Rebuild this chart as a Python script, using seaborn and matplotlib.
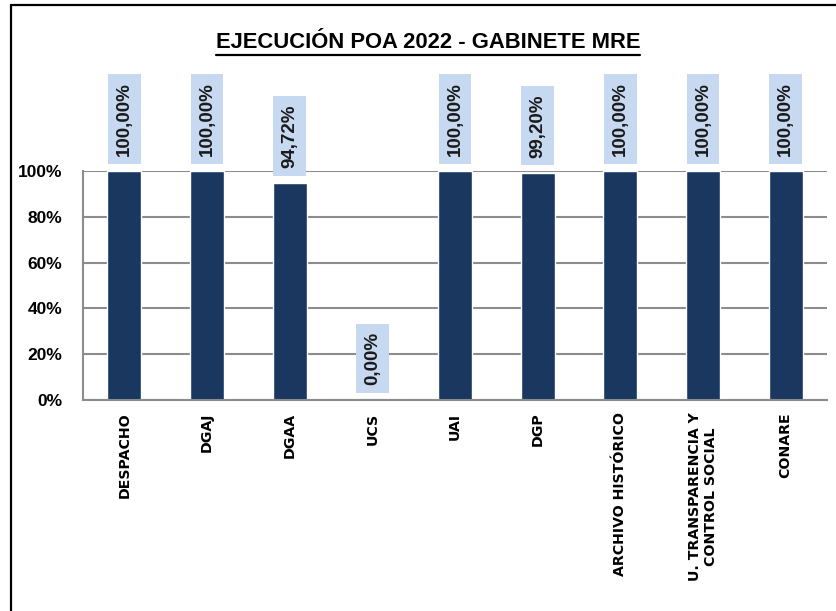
import matplotlib
matplotlib.use("Agg")
import matplotlib.pyplot as plt
import seaborn as sns
import pandas as pd
from matplotlib.lines import Line2D

categories = ["DESPACHO", "DGAJ", "DGAA", "UCS", "UAI", "DGP",
              "ARCHIVO HISTÓRICO", "U. TRANSPARENCIA Y\nCONTROL SOCIAL", "CONARE"]
values = [1.00, 1.00, 0.9472, 0.0, 1.00, 0.992, 1.00, 1.00, 1.00]
yticks = [0, 0.2, 0.4, 0.6, 0.8, 1.0]
ytick_labels = ["0%", "20%", "40%", "60%", "80%", "100%"]
title = "EJECUCIÓN POA 2022 - GABINETE MRE"

BAR = "#1A3760"
BOX = "#C6D9F1"
GRID = "#8C8C8C"
FONT = ["Liberation Sans", "DejaVu Sans"]

sns.set_theme(style="white")
plt.rcParams["font.family"] = FONT

W, H = 837, 611
fig = plt.figure(figsize=(W / 100, H / 100), dpi=100)
fig.patch.set_facecolor("white")

# outer frame (left & top visible)
fig.add_artist(Line2D([11 / W, 11 / W], [0, 1 - 5 / H], color="black", lw=1.6, transform=fig.transFigure))
fig.add_artist(Line2D([11 / W, 1], [1 - 5 / H, 1 - 5 / H], color="black", lw=1.6, transform=fig.transFigure))

ax = fig.add_axes([83 / W, 1 - 400 / H, (827 - 83) / W, (400 - 171) / H])
df = pd.DataFrame({"cat": categories, "val": values})
sns.barplot(data=df, x="cat", y="val", color=BAR, saturation=1, width=0.41, ax=ax)

ax.set_ylim(0, 1)
ax.set_xlim(-0.5, len(categories) - 0.5)
ax.set_yticks(yticks)
ax.set_yticklabels(ytick_labels, fontsize=12.5, fontweight="bold", color="black")
ax.set_xlabel("")
ax.set_ylabel("")
ax.yaxis.grid(True, color=GRID, lw=1.5)
ax.set_axisbelow(True)
for s in ["top", "right"]:
    ax.spines[s].set_visible(False)
for s in ["left", "bottom"]:
    ax.spines[s].set_color(GRID)
    ax.spines[s].set_linewidth(1.5)
ax.tick_params(axis="y", length=0, pad=15)
ax.tick_params(axis="x", length=0, pad=9)
ax.set_xticks(range(len(categories)))
ax.set_xticklabels(categories, rotation=90, fontsize=10.2, fontweight="bold",
                   family="DejaVu Sans", color="black", va="top", ha="center",
                   multialignment="center")
ax.set_facecolor("white")

for i, (p, v) in enumerate(zip(ax.patches, values)):
    x = p.get_x() + p.get_width() / 2
    lab = f"{v * 100:.2f}%".replace(".", ",")
    ax.annotate(lab, xy=(x, v), xytext=(0, 11), textcoords="offset points",
                rotation=90, ha="center", va="bottom", fontsize=13.5,
                fontweight="bold", color="#1a1a1a", annotation_clip=False,
                bbox=dict(boxstyle="square,pad=0.42", fc=BOX, ec="none"))

t = fig.text(428 / W, 1 - 43 / H, title, ha="center", va="center",
             fontsize=16, fontweight="bold", color="black")
fig.canvas.draw()
r = fig.canvas.get_renderer()
bb = t.get_window_extent(r)
t.set_fontsize(16 * 424 / bb.width)
fig.canvas.draw()
bb = t.get_window_extent(r)
uy = (H - 55) / H
fig.add_artist(Line2D([bb.x0 / W, bb.x1 / W], [uy, uy], color="black", lw=1.6,
                      transform=fig.transFigure))

fig.savefig("out.png", dpi=100, facecolor="white")
